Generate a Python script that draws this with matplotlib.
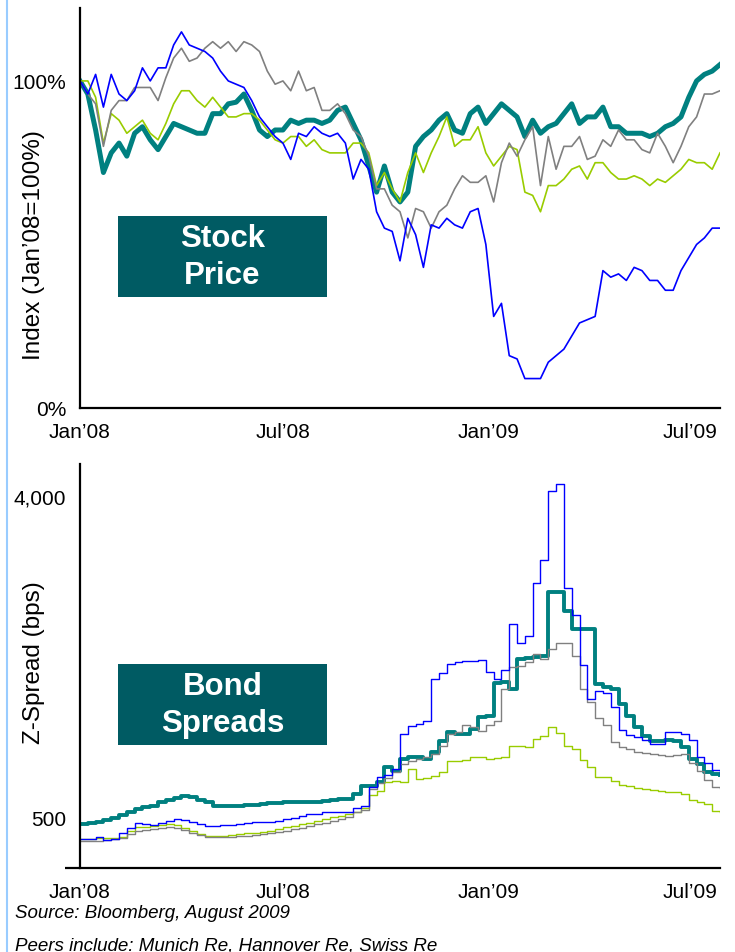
import numpy as np
import pandas as pd
import matplotlib
matplotlib.use("Agg")
import matplotlib.pyplot as plt
import matplotlib.dates as mdates
from matplotlib.patches import Rectangle
from matplotlib.lines import Line2D

plt.rcParams['font.family'] = ['Liberation Sans', 'DejaVu Sans']

# weekly observations, Jan 2008 - Jul 2009
weeks = pd.date_range('2008-01-01', periods=83, freq='7D')

# stock price index (Jan'08 = 100%)
stock_ours = [100, 96, 85, 72, 78, 81, 77, 84, 86, 82,
              79, 83, 87, 86, 85, 84, 84, 90, 90, 93,
              93.5, 96, 91, 85, 83, 85, 85, 88, 87, 88,
              88, 87, 88, 91, 92, 87, 82, 74, 66, 74,
              66, 63, 66, 80, 83, 85, 88, 90, 85, 84,
              90, 92, 87, 90, 93, 91, 89, 83, 88, 84,
              86, 87, 90, 93, 87, 89, 89, 92, 86, 86,
              84, 84, 84, 83, 84, 86, 87, 89, 95, 100,
              102, 103, 105]
stock_blue = [100, 96, 102, 92, 102, 96, 94, 97, 104, 100,
              104, 104, 111, 115, 111, 110, 109, 107, 103, 100,
              99, 98, 94, 89, 86, 83, 81, 76, 84, 83,
              86, 84, 83, 84, 81, 70, 76, 73, 60, 55,
              54, 45, 58, 53, 43, 56, 55, 58, 56, 55,
              60, 61, 50, 28, 32, 16, 15, 9, 9, 9,
              14, 16, 18, 22, 26, 27, 28, 42, 40, 41,
              39, 43, 42, 39, 39, 36, 36, 42, 46, 50,
              52, 55, 55]
stock_gray = [100, 96, 93, 80, 91, 94, 94, 98, 98, 98,
              94, 101, 107, 110, 106, 107, 110, 112, 110, 112,
              109, 112, 111, 109, 103, 99, 100, 97, 103, 97,
              98, 91, 91, 93, 90, 85, 83, 77, 67, 67,
              62, 60, 52, 61, 60, 55, 60, 62, 67, 71,
              69, 69, 71, 63, 75, 81, 77, 82, 86, 68,
              83, 73, 80, 80, 83, 76, 77, 82, 80, 85,
              82, 82, 79, 78, 84, 80, 75, 80, 86, 89,
              96, 96, 97]
stock_green = [100, 100, 95, 81, 90, 88, 84, 86, 88, 84,
               82, 87, 93, 97, 97, 94, 92, 95, 92, 89,
               89, 90, 90, 88, 85, 82, 81, 83, 83, 80,
               82, 79, 78, 78, 78, 81, 81, 78, 68, 72,
               67, 63, 72, 78, 72, 78, 83, 89, 80, 82,
               82, 86, 78, 74, 77, 80, 79, 66, 65, 60,
               68, 68, 70, 73, 74, 70, 75, 75, 72, 70,
               70, 71, 70, 68, 70, 69, 71, 73, 76, 75,
               75, 73, 78]

# bond Z-spreads (bps)
spread_ours = [424, 435, 445, 465, 485, 525, 555, 585, 605, 625,
               660, 685, 712, 725, 722, 690, 660, 625, 620, 620,
               625, 631, 635, 642, 648, 653, 660, 664, 664, 664,
               668, 675, 685, 692, 700, 751, 838, 840, 882, 1045,
               1001, 1132, 1150, 1150, 1135, 1209, 1330, 1430, 1405, 1405,
               1460, 1590, 1601, 1960, 1975, 1895, 2222, 2230, 2240, 2255,
               2953, 2953, 2745, 2549, 2549, 2549, 1950, 1920, 1895, 1732,
               1600, 1480, 1383, 1328, 1328, 1340, 1328, 1260, 1132, 1080,
               990, 969, 960]
spread_blue = [260, 265, 280, 250, 262, 330, 380, 435, 420, 413,
               435, 456, 475, 470, 450, 424, 405, 402, 410, 413,
               425, 435, 445, 447, 450, 456, 478, 489, 510, 530,
               533, 550, 555, 555, 560, 600, 625, 830, 936, 960,
               1023, 1400, 1495, 1514, 1550, 2004, 2070, 2168, 2190, 2200,
               2200, 2210, 2080, 2004, 2100, 2600, 2400, 2470, 3050, 3300,
               4050, 4130, 3000, 2700, 2160, 1786, 1870, 1850, 1700, 1450,
               1390, 1372, 1340, 1296, 1296, 1427, 1427, 1410, 1340, 1150,
               1090, 1010, 969]
spread_gray = [238, 238, 238, 250, 262, 271, 310, 347, 360, 369,
               380, 391, 380, 355, 325, 300, 282, 282, 282, 282,
               288, 293, 300, 315, 325, 336, 347, 369, 380, 400,
               420, 440, 460, 480, 500, 555, 580, 800, 870, 920,
               990, 1078, 1110, 1132, 1154, 1187, 1274, 1400, 1427, 1500,
               1480, 1440, 1500, 1550, 1900, 2135, 2146, 2190, 2280, 2220,
               2330, 2400, 2400, 2255, 1900, 1753, 1580, 1500, 1320, 1263,
               1240, 1209, 1195, 1187, 1175, 1165, 1180, 1187, 1090, 1001,
               900, 827, 816]
spread_green = [260, 265, 268, 271, 275, 282, 347, 391, 395, 402,
                410, 424, 410, 380, 345, 315, 293, 293, 293, 300,
                315, 325, 330, 336, 350, 369, 391, 402, 420, 440,
                460, 478, 500, 511, 530, 555, 600, 740, 784, 882,
                893, 882, 1023, 914, 920, 947, 990, 1110, 1110, 1120,
                1154, 1154, 1132, 1140, 1154, 1274, 1274, 1263, 1350, 1383,
                1481, 1420, 1274, 1241, 1120, 1050, 940, 936, 893, 850,
                840, 820, 805, 790, 780, 775, 770, 751, 690, 664,
                645, 566, 555]

xtick_dates = ['2008-01-01', '2008-07-01', '2009-01-01', '2009-07-01']
xtick_labels = ['Jan\u201908', 'Jul\u201908', 'Jan\u201909', 'Jul\u201909']
stock_ticks = [0, 100]
spread_ticks = [500, 4000]

TEAL = '#008080'
BLUE = '#0000FF'
GRAY = '#808080'
GREEN = '#99CC00'
BOX = '#005B63'

fig = plt.figure(figsize=(7.35, 9.53), dpi=100)
ax1 = fig.add_axes([80 / 735, 544 / 953, 640 / 735, 400 / 953])
ax2 = fig.add_axes([80 / 735, 84 / 953, 640 / 735, 404 / 953])

ax1.plot(weeks, stock_ours, color=TEAL, lw=3.6, solid_joinstyle='round')
ax1.plot(weeks, stock_green, color=GREEN, lw=1.2)
ax1.plot(weeks, stock_gray, color=GRAY, lw=1.2)
ax1.plot(weeks, stock_blue, color=BLUE, lw=1.2)
ax1.set_ylim(0, 122.3)

ax2.plot(weeks, spread_ours, color=TEAL, lw=2.8, drawstyle='steps-post')
ax2.plot(weeks, spread_green, color=GREEN, lw=1.0, drawstyle='steps-post')
ax2.plot(weeks, spread_gray, color=GRAY, lw=1.0, drawstyle='steps-post')
ax2.plot(weeks, spread_blue, color=BLUE, lw=1.0, drawstyle='steps-post')
ax2.set_ylim(-56, 4349)

xdates = pd.to_datetime(xtick_dates)
for ax in (ax1, ax2):
    ax.set_xlim(weeks[0], weeks[-1])
    for s in ('top', 'right'):
        ax.spines[s].set_visible(False)
    for s in ('left', 'bottom'):
        ax.spines[s].set_linewidth(1.6)
    ax.set_xticks(xdates)
    ax.set_xticklabels(xtick_labels)
    ax.tick_params(axis='both', which='major', length=0, labelsize=15, pad=10)
    # axes cross slightly at the origin
    ax.set_xticks([weeks[0]], minor=True)
    ax.tick_params(axis='x', which='minor', length=8, width=1.6)

ax1.set_yticks(stock_ticks)
ax1.set_yticklabels([f"{v}%" for v in stock_ticks])
ax1.set_yticks([0], minor=True)
ax1.tick_params(axis='y', which='minor', length=11, width=1.6)
ax1.set_ylabel('Index (Jan\u201908=100%)', fontsize=17.5)
ax1.yaxis.set_label_coords(-0.055, 0.41)

ax2.set_yticks(spread_ticks)
ax2.set_yticklabels([f"{v:,}" for v in spread_ticks])
ax2.set_yticks([-56], minor=True)
ax2.tick_params(axis='y', which='minor', length=11, width=1.6)
ax2.set_ylabel('Z-Spread (bps)', fontsize=17.5)
ax2.yaxis.set_label_coords(-0.055, 0.512)

# title boxes
ax1.add_patch(Rectangle((0.0594, 0.2775), 0.327, 0.2025, transform=ax1.transAxes,
                        facecolor=BOX, edgecolor='none', zorder=5))
ax1.text(0.2227, 0.3788, 'Stock\nPrice', transform=ax1.transAxes, ha='center', va='center',
         color='white', fontsize=22.5, fontweight='bold', linespacing=1.28, zorder=6)
ax2.add_patch(Rectangle((0.0594, 0.3045), 0.327, 0.2005, transform=ax2.transAxes,
                        facecolor=BOX, edgecolor='none', zorder=5))
ax2.text(0.2227, 0.4047, 'Bond\nSpreads', transform=ax2.transAxes, ha='center', va='center',
         color='white', fontsize=22.5, fontweight='bold', linespacing=1.28, zorder=6)

fig.text(15 / 735, 1 - 914 / 953, 'Source: Bloomberg, August 2009', fontsize=13.5,
         style='italic', va='center', ha='left')
fig.text(15 / 735, 1 - 946 / 953, 'Peers include: Munich Re, Hannover Re, Swiss Re', fontsize=13.5,
         style='italic', va='center', ha='left')

fig.add_artist(Line2D([7 / 735, 7 / 735], [0, 1], transform=fig.transFigure,
                      color='#99CCFF', lw=1.5))

fig.savefig('out.png', dpi=100)
